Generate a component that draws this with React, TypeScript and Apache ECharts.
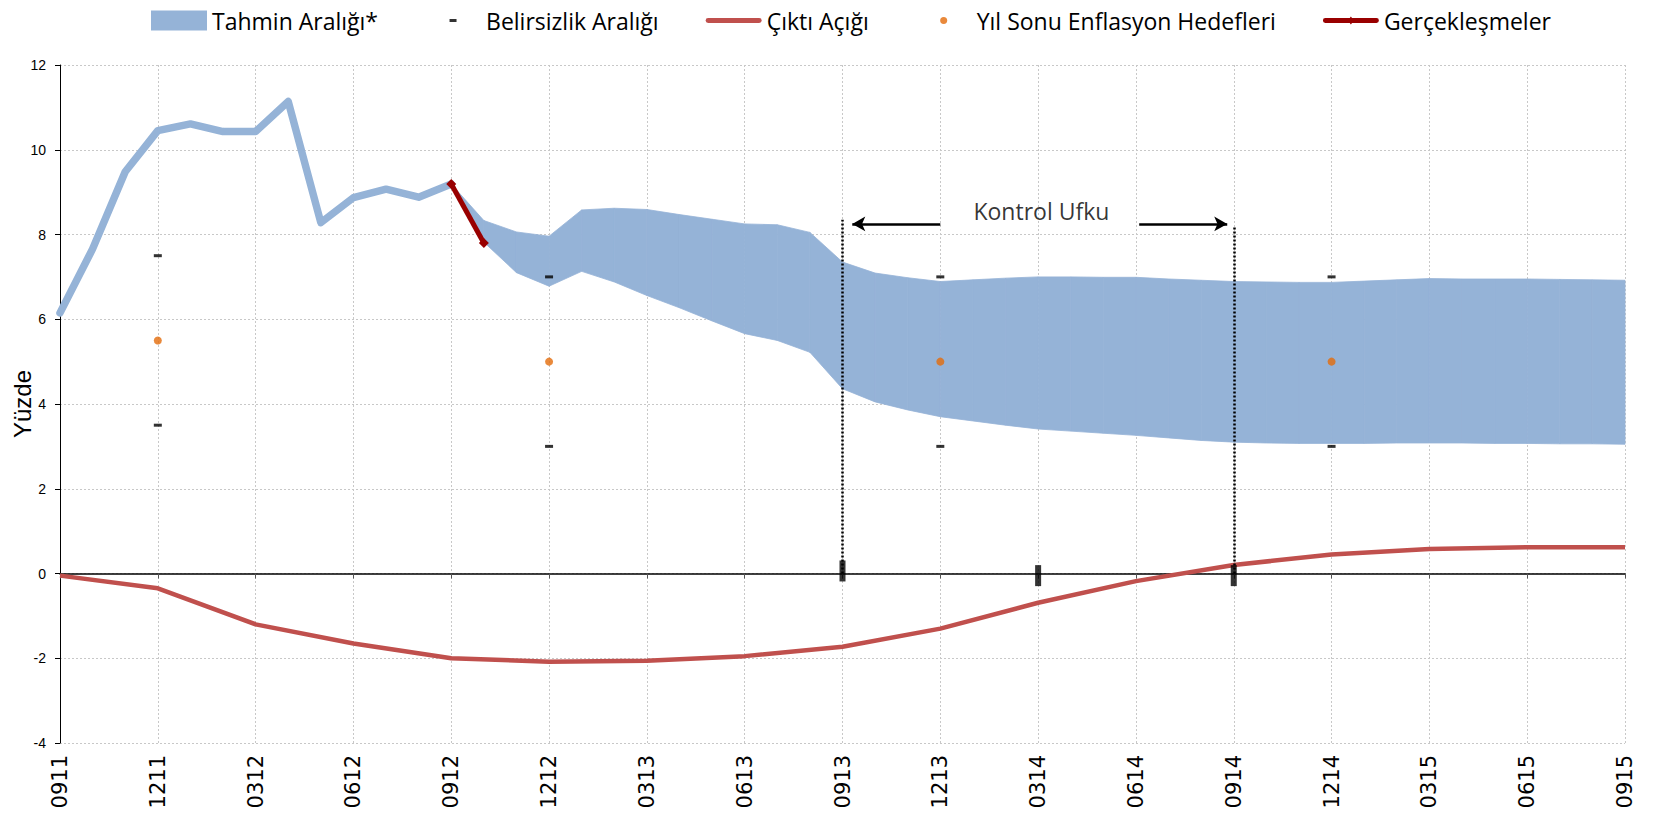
import React, { useEffect, useRef } from 'react';
import * as echarts from 'echarts';

// ---- categories ----
const months = [
  '0911', '1011', '1111', '1211', '0112', '0212', '0312', '0412', '0512', '0612', '0712', '0812',
  '0912', '1012', '1112', '1212', '0113', '0213', '0313', '0413', '0513', '0613', '0713', '0813',
  '0913', '1013', '1113', '1213', '0114', '0214', '0314', '0414', '0514', '0614', '0714', '0814',
  '0914', '1014', '1114', '1214', '0115', '0215', '0315', '0415', '0515', '0615', '0715', '0815',
  '0915',
];

// ---- actual inflation (Sep 2011 .. Sep 2012) ----
const actualStart = '0911';
const actualInflation = [6.15, 7.66, 9.48, 10.45, 10.61, 10.43, 10.43, 11.14, 8.28, 8.87, 9.07, 8.88, 9.19];

// ---- realizations ----
const realizedMonths = ['0912', '1012'];
const realizedValues = [9.19, 7.8];

// ---- forecast band (Sep 2012 .. Sep 2015) ----
const bandStart = '0912';
const bandUpper = [
  9.19, 8.33, 8.06, 7.96,
  8.58, 8.62, 8.59, 8.47, 8.36, 8.25, 8.23, 8.05, 7.35, 7.09, 6.98, 6.89,
  6.93, 6.97, 7.0, 7.0, 6.99, 6.99, 6.95, 6.92, 6.89, 6.88, 6.87, 6.87,
  6.9, 6.93, 6.96, 6.95, 6.95, 6.95, 6.94, 6.93, 6.92,
];
const bandLower = [
  9.19, 7.82, 7.1, 6.78,
  7.13, 6.88, 6.56, 6.27, 5.96, 5.66, 5.5, 5.22, 4.36, 4.05, 3.86, 3.7,
  3.6, 3.5, 3.41, 3.36, 3.31, 3.26, 3.2, 3.14, 3.1, 3.08, 3.07, 3.07,
  3.07, 3.08, 3.08, 3.08, 3.07, 3.07, 3.06, 3.06, 3.05,
];

// ---- output gap (quarterly) ----
const outputGapMonths = ['0911', '1211', '0312', '0612', '0912', '1212', '0313', '0613', '0913', '1213', '0314', '0614', '0914', '1214', '0315', '0615', '0915'];
const outputGap = [-0.05, -0.35, -1.2, -1.65, -2.0, -2.08, -2.06, -1.95, -1.73, -1.3, -0.69, -0.18, 0.2, 0.45, 0.58, 0.62, 0.62];

// ---- year-end targets and uncertainty band ----
const targetMonths = ['1211', '1212', '1213', '1214'];
const targets = [5.5, 5, 5, 5];
const uncertaintyUpper = [7.5, 7, 7, 7];
const uncertaintyLower = [3.5, 3, 3, 3];

// ---- marks on the zero line ----
const axisMarkMonths = ['0913', '0314', '0914'];
const axisMarkValues = [0.06, -0.05, -0.05];

// ---- control horizon annotation ----
const horizonMonths = ['0913', '0914'];
const horizonTops = [8.35, 8.2];
const arrowLevel = 8.25;
const leftArrow = [27.0, 24.3];
const rightArrow = [33.1, 35.8];
const horizonLabel = 'Kontrol Ufku';
const horizonLabelPos = [30.1, 8.55];

const ix = (m: string) => months.indexOf(m);

const BLUE = '#95B3D7';
const RED = '#C0504D';
const DARKRED = '#990000';
const ORANGE = '#E46C0A';

function buildOption() {
  const bs = ix(bandStart);
  const as = ix(actualStart);
  const bandData = bandUpper.map((u, k) => [bs + k, bandLower[k], u]);
  const gridLine = { color: '#C8C8C8', width: 1, type: [2, 2] as number[] };
  return {
    animation: false,
    grid: { left: 60, right: 36, top: 65, bottom: 78, containLabel: false, outerBoundsMode: 'none' },
    legend: {
      left: 146,
      top: 4,
      itemWidth: 56,
      itemHeight: 20,
      itemGap: 47,
      selectedMode: false,
      itemStyle: { borderWidth: 0 },
      textStyle: { fontFamily: 'Open Sans', fontSize: 23, color: '#000' },
      data: [
        { name: 'Tahmin Aralığı*', icon: 'rect' },
        { name: 'Belirsizlik Aralığı', icon: 'path://M0,0M56,20M24.5,8.5h7v3h-7z' },
        { name: 'Çıktı Açığı', icon: 'path://M0,0M56,20M2,7.5h52a2.5,2.5 0 0 1 0,5h-52a2.5,2.5 0 0 1 0,-5z' },
        { name: 'Yıl Sonu Enflasyon Hedefleri', icon: 'path://M0,0M56,20M24.5,10a3.5,3.5 0 1 0 7,0a3.5,3.5 0 1 0 -7,0z' },
        { name: 'Gerçekleşmeler', icon: 'path://M0,0M56,20M2,7.5h52a2.5,2.5 0 0 1 0,5h-52a2.5,2.5 0 0 1 0,-5zM28,6l3,4l-3,4l-3,-4z' },
      ],
    },
    xAxis: [
      {
        type: 'value',
        min: 0,
        max: 48,
        interval: 3,
        position: 'bottom',
        axisLine: { show: false, onZero: false },
        axisTick: { show: false },
        splitLine: { show: true, lineStyle: gridLine },
        axisLabel: {
          rotate: 90,
          margin: 12,
          fontFamily: 'DejaVu Sans',
          fontSize: 21,
          color: '#000',
          formatter: (v: number) => months[v] ?? '',
        },
      },
      {
        type: 'value',
        min: 0,
        max: 48,
        interval: 3,
        position: 'bottom',
        axisLine: { show: true, onZero: true, lineStyle: { color: '#000', width: 1.5 } },
        axisTick: { show: true, length: 5, lineStyle: { color: '#555', width: 1 } },
        axisLabel: { show: false },
        splitLine: { show: false },
      },
    ],
    yAxis: {
      type: 'value',
      min: -4,
      max: 12,
      interval: 2,
      name: 'Yüzde',
      nameLocation: 'middle',
      nameGap: 26,
      nameMoveOverlap: false,
      nameTextStyle: { fontFamily: 'Liberation Sans', fontSize: 24, color: '#000' },
      axisLine: { show: true, onZero: false, lineStyle: { color: '#000', width: 1 } },
      axisTick: { show: true, length: 5, lineStyle: { color: '#000' } },
      axisLabel: { margin: 14, fontFamily: 'Liberation Sans', fontSize: 14, color: '#000' },
      splitLine: { show: true, lineStyle: gridLine },
    },
    series: [
      {
        name: 'Tahmin Aralığı*',
        type: 'custom',
        color: BLUE,
        itemStyle: { color: BLUE },
        encode: { x: 0, y: [1, 2] },
        data: bandData,
        renderItem: (params: any, api: any) => {
          const i = params.dataIndex;
          if (i >= bandData.length - 1) return null;
          const a = bandData[i];
          const b = bandData[i + 1];
          const pts = [
            api.coord([a[0], a[2]]),
            api.coord([b[0], b[2]]),
            api.coord([b[0], b[1]]),
            api.coord([a[0], a[1]]),
          ];
          return {
            type: 'polygon',
            shape: { points: pts },
            style: { fill: BLUE, stroke: BLUE, lineWidth: 0.8 },
          };
        },
        z: 1,
      },
      {
        name: 'actual',
        type: 'line',
        symbol: 'none',
        color: BLUE,
        lineStyle: { width: 7.5, color: BLUE, join: 'round', cap: 'round' },
        data: actualInflation.map((v, k) => [as + k, v]),
        z: 2,
      },
      {
        name: 'Çıktı Açığı',
        type: 'line',
        symbol: 'none',
        color: RED,
        itemStyle: { color: RED },
        lineStyle: { width: 4.5, color: RED, join: 'round' },
        data: outputGapMonths.map((m, k) => [ix(m), outputGap[k]]),
        z: 3,
      },
      {
        name: 'axisMarks',
        type: 'scatter',
        symbol: 'rect',
        symbolSize: [6, 21],
        itemStyle: { color: '#000' },
        data: axisMarkMonths.map((m, k) => [ix(m), axisMarkValues[k]]),
        z: 4,
        markLine: {
          silent: true,
          symbol: ['none', 'none'],
          label: { show: false },
          lineStyle: { color: '#000', width: 2.5, type: [2, 2] },
          data: horizonMonths.map((m, k) => [
            { coord: [ix(m), 0] },
            { coord: [ix(m), horizonTops[k]] },
          ]),
        },
      },
      {
        name: 'arrows',
        type: 'scatter',
        symbolSize: 1,
        itemStyle: { color: 'rgba(0,0,0,0)' },
        data: [[horizonLabelPos[0], horizonLabelPos[1]]],
        label: {
          show: true,
          position: 'inside',
          formatter: horizonLabel,
          fontFamily: 'Open Sans',
          fontSize: 23,
          color: '#000',
        },
        markLine: {
          silent: true,
          symbol: ['none', 'arrow'],
          symbolSize: [11, 13],
          label: { show: false },
          lineStyle: { color: '#000', width: 2.5, type: 'solid' },
          data: [
            [{ coord: [leftArrow[0], arrowLevel] }, { coord: [leftArrow[1], arrowLevel] }],
            [{ coord: [rightArrow[0], arrowLevel] }, { coord: [rightArrow[1], arrowLevel] }],
          ],
        },
        z: 5,
      },
      {
        name: 'Gerçekleşmeler',
        type: 'line',
        symbol: 'diamond',
        symbolSize: 10,
        color: DARKRED,
        itemStyle: { color: DARKRED },
        lineStyle: { width: 5, color: DARKRED },
        data: realizedMonths.map((m, k) => [ix(m), realizedValues[k]]),
        z: 6,
      },
      {
        name: 'Yıl Sonu Enflasyon Hedefleri',
        type: 'scatter',
        symbol: 'circle',
        symbolSize: 8,
        color: ORANGE,
        itemStyle: { color: ORANGE },
        data: targetMonths.map((m, k) => [ix(m), targets[k]]),
        z: 6,
      },
      {
        name: 'Belirsizlik Aralığı',
        type: 'scatter',
        symbol: 'rect',
        symbolSize: [8, 3],
        color: '#000',
        itemStyle: { color: '#000' },
        data: [
          ...targetMonths.map((m, k) => [ix(m), uncertaintyUpper[k]]),
          ...targetMonths.map((m, k) => [ix(m), uncertaintyLower[k]]),
        ],
        z: 6,
      },
    ],
  };
}

export default function App() {
  const ref = useRef<HTMLDivElement>(null);
  useEffect(() => {
    document.body.style.margin = '0';
    const chart = echarts.init(ref.current!, undefined, { renderer: 'svg' });
    chart.setOption(buildOption() as any);
    return () => chart.dispose();
  }, []);
  return <div ref={ref} style={{ width: 1661, height: 821 }} />;
}
